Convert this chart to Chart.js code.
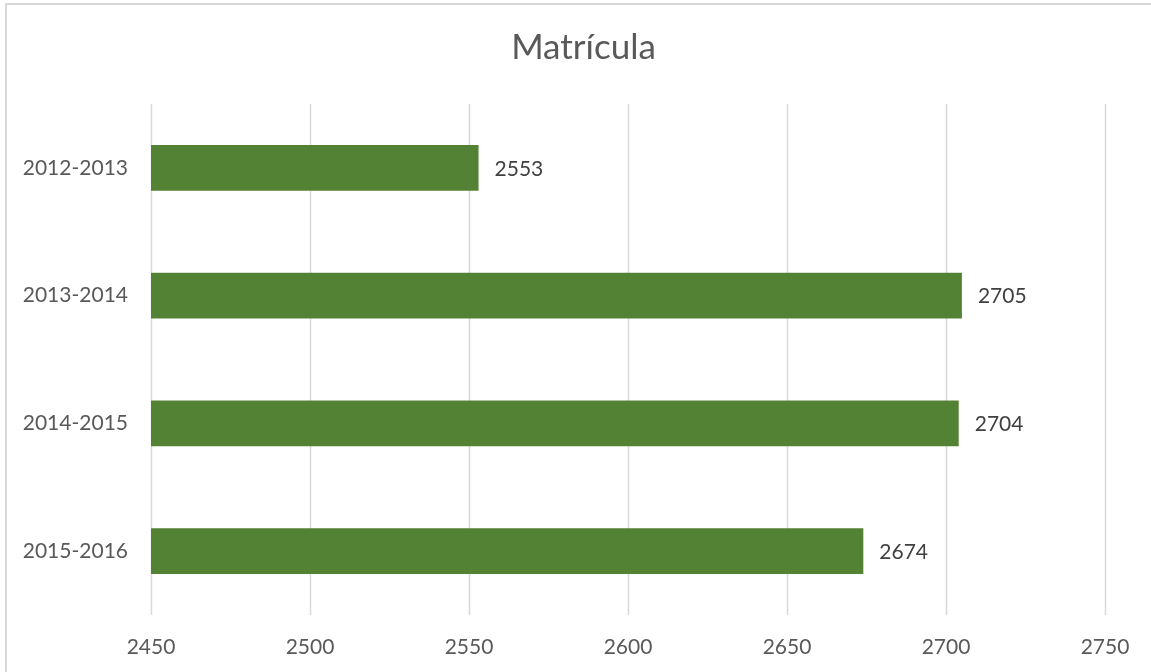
<!DOCTYPE html>
<html>
<head>
<meta charset="utf-8">
<script src="https://cdn.jsdelivr.net/npm/chart.js@4"></script>
<style>
    html, body { margin: 0; padding: 0; background: #fff; overflow: hidden; }
    #frame {
        position: absolute; left: 5px; top: 3px;
        width: 1170px; height: 690px;
        border: 2px solid #d9d9d9;
    }
    #wrap { position: absolute; left: 0; top: 0; width: 1151px; height: 672px; }
</style>
</head>
<body>
<div id="frame"></div>
<div id="wrap"><canvas id="matChart"></canvas></div>
<script>
// Datos
const titulo = 'Matrícula';
const cursos = ['2012-2013', '2013-2014', '2014-2015', '2015-2016'];
const matricula = [2553, 2705, 2704, 2674];
const ejeMin = 2450;
const ejeMax = 2750;
const ejePaso = 50;

const FONT = 'Lato, "Noto Sans", sans-serif';

// Título centrado sobre el marco del gráfico
const tituloGrafico = {
    id: 'tituloGrafico',
    afterDraw(chart) {
        const c = chart.ctx;
        c.save();
        c.font = '35px ' + FONT;
        c.fillStyle = '#595959';
        c.textAlign = 'center';
        c.textBaseline = 'middle';
        c.fillText(titulo, chart.width / 2 + 8, 48);
        c.restore();
    }
};

// Etiquetas de valor a la derecha de cada barra
const etiquetasValor = {
    id: 'etiquetasValor',
    afterDatasetsDraw(chart) {
        const ctx = chart.ctx;
        const meta = chart.getDatasetMeta(0);
        ctx.save();
        ctx.font = '21px ' + FONT;
        ctx.fillStyle = '#404040';
        ctx.textAlign = 'left';
        ctx.textBaseline = 'middle';
        meta.data.forEach((bar, i) => {
            ctx.fillText(String(chart.data.datasets[0].data[i]), bar.x + 16, bar.y + 1);
        });
        ctx.restore();
    }
};

// Líneas de cuadrícula verticales detrás de las barras
const rejilla = {
    id: 'rejilla',
    beforeDatasetsDraw(chart) {
        const c = chart.ctx;
        const x = chart.scales.x;
        const area = chart.chartArea;
        c.save();
        c.strokeStyle = '#d9d9d9';
        c.lineWidth = 1.5;
        x.ticks.forEach(t => {
            const px = Math.round(x.getPixelForValue(t.value)) + 0.5;
            c.beginPath();
            c.moveTo(px, area.top);
            c.lineTo(px, area.bottom);
            c.stroke();
        });
        c.restore();
    }
};

const ctx = document.getElementById('matChart').getContext('2d');
new Chart(ctx, {
    type: 'bar',
    data: {
        labels: cursos,
        datasets: [{
            label: titulo,
            data: matricula,
            backgroundColor: '#548235',
            borderWidth: 0,
            barPercentage: 0.6,
            categoryPercentage: 0.6
        }]
    },
    options: {
        indexAxis: 'y',
        responsive: true,
        maintainAspectRatio: false,
        animation: false,
        layout: { padding: { left: 0, right: 46, top: 104, bottom: 0 } },
        plugins: {
            legend: { display: false },
            tooltip: { enabled: false },
            title: { display: false }
        },
        scales: {
            x: {
                min: ejeMin,
                max: ejeMax,
                ticks: {
                    stepSize: ejePaso,
                    color: '#595959',
                    font: { family: FONT, size: 21 },
                    padding: 20,
                    callback: v => String(v)
                },
                grid: { display: false, drawTicks: false },
                border: { display: false },
                afterFit: scale => { scale.height = 57; }
            },
            y: {
                ticks: {
                    color: '#595959',
                    font: { family: FONT, size: 21 },
                    padding: 23
                },
                grid: { display: false, drawTicks: false },
                border: { display: false },
                afterFit: scale => { scale.width = 151; }
            }
        }
    },
    plugins: [rejilla, etiquetasValor, tituloGrafico]
});
</script>
</body>
</html>
